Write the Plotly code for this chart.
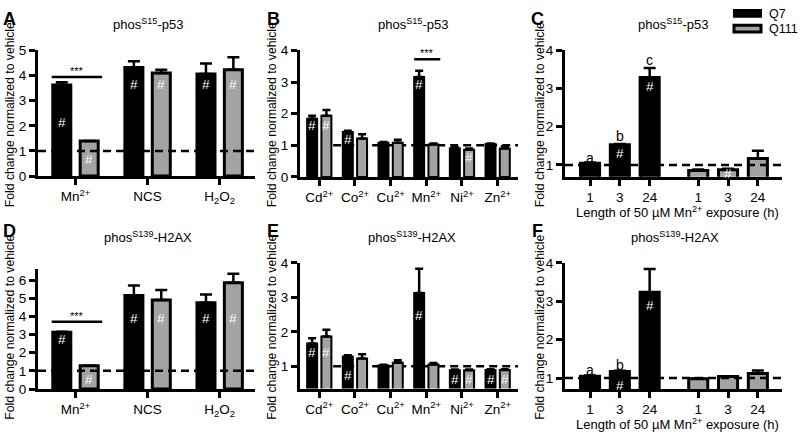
import plotly.graph_objects as go

W, H = 800, 440
FONT = "Liberation Sans"
GRAY = "#a3a3a3"

# ---------------- data ----------------
# Panel A: phosS15-p53, treatments
a_cats = ["Mn<sup>2+</sup>", "NCS", "H<sub>2</sub>O<sub>2</sub>"]
a_q7 = [3.63, 4.32, 4.06]
a_q7_sem = [0.10, 0.25, 0.42]
a_q111 = [1.40, 4.10, 4.23]
a_q111_sem = [0.0, 0.13, 0.50]

# Panel D: phosS139-H2AX, treatments
d_cats = ["Mn<sup>2+</sup>", "NCS", "H<sub>2</sub>O<sub>2</sub>"]
d_q7 = [3.12, 5.15, 4.75]
d_q7_sem = [0.04, 0.55, 0.45]
d_q111 = [1.28, 4.90, 5.85]
d_q111_sem = [0.0, 0.55, 0.50]

# Panel B: phosS15-p53, metals
b_cats = ["Cd<sup>2+</sup>", "Co<sup>2+</sup>", "Cu<sup>2+</sup>", "Mn<sup>2+</sup>", "Ni<sup>2+</sup>", "Zn<sup>2+</sup>"]
b_q7 = [1.84, 1.42, 1.08, 3.16, 0.91, 1.04]
b_q7_sem = [0.10, 0.04, 0.03, 0.20, 0.03, 0.02]
b_q111 = [1.94, 1.22, 1.08, 1.03, 0.86, 0.90]
b_q111_sem = [0.18, 0.13, 0.10, 0.03, 0.04, 0.07]

# Panel E: phosS139-H2AX, metals
e_cats = b_cats
e_q7 = [1.66, 1.28, 1.02, 3.13, 0.88, 0.89]
e_q7_sem = [0.15, 0.04, 0.02, 0.70, 0.02, 0.02]
e_q111 = [1.86, 1.22, 1.10, 1.05, 0.88, 0.89]
e_q111_sem = [0.20, 0.13, 0.07, 0.04, 0.02, 0.02]

# Panel C: phosS15-p53, time course (1, 3, 24 h)
c_times = ["1", "3", "24"]
c_q7 = [1.04, 1.53, 3.29]
c_q7_sem = [0.02, 0.02, 0.25]
c_q111 = [0.85, 0.87, 1.17]
c_q111_sem = [0.03, 0.03, 0.20]

# Panel F: phosS139-H2AX, time course
f_times = ["1", "3", "24"]
f_q7 = [1.05, 1.17, 3.24]
f_q7_sem = [0.02, 0.02, 0.60]
f_q111 = [0.98, 1.04, 1.12]
f_q111_sem = [0.01, 0.01, 0.08]

# "#" markers: (series, index, y)
a_hash = [("q7", 0, 2.15), ("q111", 0, 0.64), ("q7", 1, 3.65), ("q111", 1, 3.65), ("q7", 2, 3.65), ("q111", 2, 3.65)]
d_hash = [("q7", 0, 2.7), ("q111", 0, 0.55), ("q7", 1, 3.9), ("q111", 1, 3.9), ("q7", 2, 3.9), ("q111", 2, 3.9)]
b_hash = [("q7", 0, 1.63), ("q111", 0, 1.63), ("q7", 1, 1.2), ("q7", 3, 2.93), ("q111", 4, 0.61)]
e_hash = [("q7", 0, 1.4), ("q111", 0, 1.4), ("q7", 1, 0.72), ("q7", 3, 2.48),
          ("q7", 4, 0.61), ("q111", 4, 0.61), ("q7", 5, 0.61), ("q111", 5, 0.61)]
c_hash = [("q7", 1, 1.3), ("q7", 2, 3.05), ("q111", 1, 0.77)]
f_hash = [("q7", 1, 0.81), ("q7", 2, 2.9)]

c_letters = [("a", 0, 1.19), ("b", 1, 1.75), ("c", 2, 3.75)]
f_letters = [("a", 0, 1.2), ("b", 1, 1.34), ("c", 2, 4.05)]

# significance brackets: (x0, x1, y, text)
a_sig = (-0.33, 0.37, 3.94, "***")
d_sig = (-0.33, 0.37, 3.70, "***")
b_sig = (2.66, 3.39, 3.72, "***")
e_sig = (2.75, 3.45, 4.05, "*")

# ---------------- layout helpers ----------------
def dom_x(l, r):
    return [l / W, r / W]

def dom_y(t, b):
    return [1 - b / H, 1 - t / H]

fig = go.Figure()
layout = dict(width=W, height=H, margin=dict(l=0, r=0, t=0, b=0),
              paper_bgcolor="white", plot_bgcolor="white",
              barmode="overlay", showlegend=False)
annotations = []
shapes = []

def axis_common():
    return dict(showline=True, linewidth=3, linecolor="black", ticks="outside",
                ticklen=6, tickwidth=3, tickcolor="black", showgrid=False,
                zeroline=False, fixedrange=True,
                tickfont=dict(family=FONT, size=13.5, color="black"))

def add_panel(i, xpos, ticktext, tickpos, q7, q7s, q111, q111s, xdom, xrng, ydom, yrng,
              ytick, cen, bw, lw, capw, hashes, dash_x0, dash_layer):
    s = "" if i == 1 else str(i)
    xa = axis_common()
    xa.update(domain=xdom, range=xrng, tickvals=tickpos, ticktext=ticktext, anchor="y" + s)
    ya = axis_common()
    ya.update(domain=ydom, range=yrng, tickvals=ytick, anchor="x" + s)
    layout["xaxis" + s] = xa
    layout["yaxis" + s] = ya
    n = len(xpos)
    for vals, sems, color, c in ((q7, q7s, "black", -cen), (q111, q111s, GRAY, cen)):
        xs = xpos[:len(vals)] if color == "black" else xpos[n - len(vals):]
        fig.add_trace(go.Bar(
            x=xs, y=vals, width=bw, offset=c - bw / 2,
            marker=dict(color=color, line=dict(color="black", width=lw)),
            error_y=dict(type="data", symmetric=False, array=sems, arrayminus=[0] * len(vals),
                         color="black", thickness=2.5, width=capw, visible=True),
            xaxis="x" + s, yaxis="y" + s, hoverinfo="skip"))
    shapes.append(dict(type="line", xref="x" + s, yref="y" + s, x0=dash_x0, x1=xrng[1],
                       y0=1, y1=1, line=dict(color="black", width=2.5, dash="8px,5px"),
                       layer=dash_layer))
    for ser, idx, y in hashes:
        if ser == "q7":
            x = xpos[idx] - cen
        else:
            x = xpos[n - len(q111) + idx] + cen
        annotations.append(dict(text="#", x=x, y=y, xref="x" + s, yref="y" + s,
                                showarrow=False, font=dict(family=FONT, size=13.5, color="white")))

cpos = [0, 1, 2, 3.63, 4.63, 5.63]
add_panel(1, [0, 1, 2], a_cats, [0, 1, 2], a_q7, a_q7_sem, a_q111, a_q111_sem,
          dom_x(38, 255), [-0.52, 2.49], dom_y(45, 175), [0, 5], [0, 1, 2, 3, 4, 5],
          0.19, 0.25, 3, 6, a_hash, -0.52, "above")
add_panel(2, [0, 1, 2, 3, 4, 5], b_cats, [0, 1, 2, 3, 4, 5], b_q7, b_q7_sem, b_q111, b_q111_sem,
          dom_x(300, 518), [-0.54, 5.57], dom_y(45, 176), [0, 4], [0, 1, 2, 3, 4],
          0.2, 0.28, 2, 4, b_hash, 0.39, "below")
add_panel(3, cpos, c_times + c_times, cpos, c_q7, c_q7_sem, c_q111, c_q111_sem,
          dom_x(565, 782), [-0.84, 6.44], dom_y(45, 175.7), [0.69, 4], [1, 2, 3, 4],
          0.0, 0.64, 3, 6, c_hash, -0.84, "above")
add_panel(4, [0, 1, 2], d_cats, [0, 1, 2], d_q7, d_q7_sem, d_q111, d_q111_sem,
          dom_x(38, 255), [-0.52, 2.49], dom_y(271.4, 395.5), [0, 6.6], [0, 1, 2, 3, 4, 5, 6],
          0.19, 0.25, 3, 6, d_hash, -0.52, "above")
add_panel(5, [0, 1, 2, 3, 4, 5], e_cats, [0, 1, 2, 3, 4, 5], e_q7, e_q7_sem, e_q111, e_q111_sem,
          dom_x(300, 518), [-0.54, 5.57], dom_y(265, 395), [0.35, 4], [1, 2, 3, 4],
          0.2, 0.28, 2, 4, e_hash, 0.39, "below")
add_panel(6, cpos, f_times + f_times, cpos, f_q7, f_q7_sem, f_q111, f_q111_sem,
          dom_x(565, 782), [-0.84, 6.44], dom_y(265, 395.7), [0.71, 4], [1, 2, 3, 4],
          0.0, 0.64, 3, 6, f_hash, -0.84, "above")

for s, (x0, x1, y, txt) in (("", a_sig), ("4", d_sig), ("2", b_sig), ("5", e_sig)):
    shapes.append(dict(type="line", xref="x" + s, yref="y" + s, x0=x0, x1=x1, y0=y, y1=y,
                       line=dict(color="black", width=2.5)))
    annotations.append(dict(text=txt, x=(x0 + x1) / 2, y=y, xref="x" + s, yref="y" + s,
                            yanchor="bottom", showarrow=False, yshift=-2,
                            font=dict(family=FONT, size=11, color="black")))

for s, letters in (("3", c_letters), ("6", f_letters)):
    for t, idx, y in letters:
        annotations.append(dict(text=t, x=cpos[idx], y=y, xref="x" + s, yref="y" + s,
                                showarrow=False, font=dict(family=FONT, size=14, color="black")))

def pa(text, x, y, size=12, bold=False, angle=0, xanchor="center"):
    annotations.append(dict(text=("<b>%s</b>" % text) if bold else text, x=x / W, y=1 - y / H,
                            xref="paper", yref="paper", showarrow=False, textangle=angle,
                            xanchor=xanchor, yanchor="middle",
                            font=dict(family=FONT, size=size, color="black")))

for t, x, y in (("A", 9, 12), ("B", 273, 12), ("C", 537, 12), ("D", 9, 232), ("E", 273, 232), ("F", 537, 232)):
    pa(t, x, y, size=18, bold=True)

p53 = "phos<sup>S15</sup>-p53"
h2ax = "phos<sup>S139</sup>-H2AX"
pa(p53, 148, 18, size=13)
pa(p53, 413, 18, size=13)
pa(p53, 673, 18, size=13)
pa(h2ax, 148, 238, size=13)
pa(h2ax, 412, 238, size=13)
pa(h2ax, 675, 238, size=13)

ytitle = "Fold change normalized to vehicle"
for x, y in ((10, 112), (272, 112), (540, 112), (10, 332), (272, 332), (540, 332)):
    pa(ytitle, x, y, size=12.2, angle=-90)

xt = "Length of 50 µM Mn<sup>2+</sup> exposure (h)"
pa(xt, 677, 212, size=13)
pa(xt, 677, 432, size=13)

shapes.append(dict(type="rect", xref="paper", yref="paper", x0=734 / W, x1=761 / W,
                   y0=1 - 10 / H, y1=1 - 3 / H, fillcolor="black", line=dict(color="black", width=2)))
shapes.append(dict(type="rect", xref="paper", yref="paper", x0=734 / W, x1=761 / W,
                   y0=1 - 26 / H, y1=1 - 19 / H, fillcolor=GRAY, line=dict(color="black", width=3)))
pa("Q7", 767, 7, size=12.5, xanchor="left")
pa("Q111", 767, 23, size=12.5, xanchor="left")

layout["annotations"] = annotations
layout["shapes"] = shapes
fig.update_layout(**layout)
fig.write_html("out.html", config={"displayModeBar": False},
               post_script="document.body.style.margin='0';document.body.style.overflow='hidden';")
